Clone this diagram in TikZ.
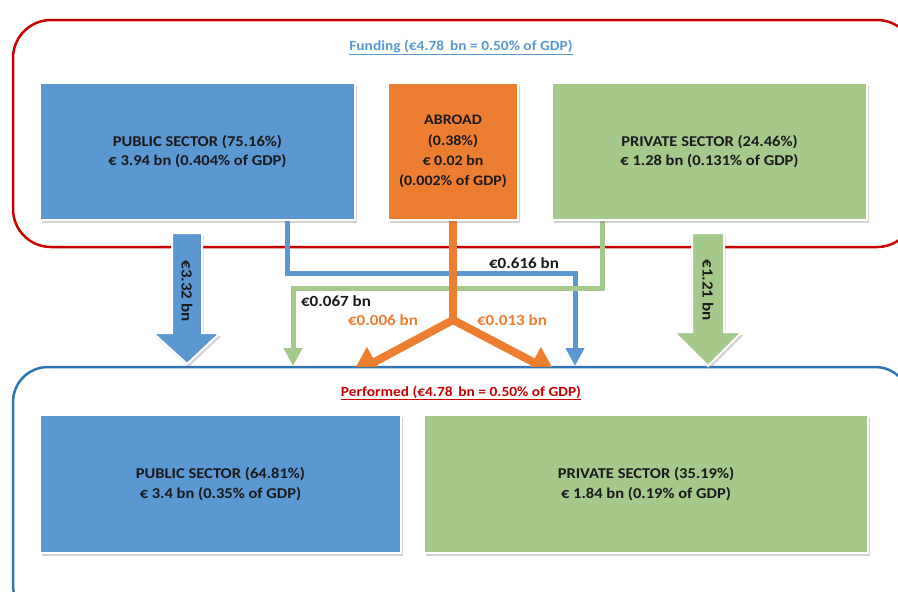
\documentclass[tikz,border=0pt]{standalone}
\usepackage{fontspec}
\setmainfont{Carlito}[FakeStretch=1.1]
\usetikzlibrary{arrows.meta,shadows}
\definecolor{cblue}{HTML}{5B97D1}
\definecolor{corange}{HTML}{ED7D31}
\definecolor{cgreen}{HTML}{A5C98B}
\definecolor{cred}{HTML}{C80000}
\definecolor{cframe}{HTML}{2E75B6}
\definecolor{ctext}{HTML}{1A1A1A}
\tikzset{
  box/.style={draw=white, line width=2pt, minimum height=137pt, inner sep=0pt,
    align=center, text=ctext, font=\bfseries\fontsize{15}{19.5}\selectfont,
    drop shadow={opacity=0.35, shadow xshift=1.5pt, shadow yshift=-3pt}},
  bigarrow/.style={draw=white, line width=2pt, line join=miter,
    drop shadow={opacity=0.35, shadow xshift=1.5pt, shadow yshift=-3pt}},
  flow/.style={line width=5pt, -{Triangle[width=18pt,length=18pt]}},
  oflow/.style={line width=8pt, draw=corange, -{Triangle[width=32pt,length=26pt]}},
  lab/.style={font=\bfseries\fontsize{15.5}{17}\selectfont, text=ctext, inner sep=0pt},
  olab/.style={font=\bfseries\fontsize{15.5}{17}\selectfont, text=corange, inner sep=0pt},
  head/.style={font=\bfseries\fontsize{14}{16}\selectfont, inner sep=0pt},
}
\begin{document}
\begin{tikzpicture}[x=1pt,y=-1pt]
\useasboundingbox (0,0) rectangle (898,592);
\clip (0,0) rectangle (898,592);
% frames
\draw[cred, line width=2.5pt, rounded corners=38pt] (13,20) rectangle (915,247);
\draw[cframe, line width=2.5pt, fill=white, rounded corners=35pt] (13,367) rectangle (910,620);
\node[head, text=cblue] (fundt) at (461,47) {\underline{Funding (€4.78\,\ bn = 0.50\% of GDP)}};
\node[head, text=cred] (perft) at (461,393) {\underline{Performed (€4.78\,\ bn = 0.50\% of GDP)}};
% free ends
\coordinate (tb) at (575,366);
\coordinate (tg) at (293,366);
\coordinate (fork) at (453,320);
\coordinate (tol) at (352,374);
\coordinate (tor) at (556,374);
% thin flows
\draw[flow, draw=cblue] (287,215) |- (575,273) -- (tb);
\draw[flow, draw=cgreen] (602,215) |- (293,288) -- (tg);
% orange flows
\draw[line width=8pt, corange] (453,215) -- (fork);
\begin{scope}
\clip (0,0) rectangle (898,366);
\draw[oflow] (fork) -- (tol);
\draw[oflow] (fork) -- (tor);
\end{scope}
% boxes
\node[box, fill=cblue, minimum width=315pt] (pub) at (197.5,151.5)
  {PUBLIC SECTOR (75.16\%)\\€ 3.94 bn (0.404\% of GDP)};
\node[box, fill=corange, minimum width=130pt, font=\bfseries\fontsize{14.5}{20.3}\selectfont] (abr) at (453,151.5)
  {ABROAD\\(0.38\%)\\€ 0.02 bn\\(0.002\% of GDP)};
\node[box, fill=cgreen, minimum width=315pt] (priv) at (709.5,151.5)
  {PRIVATE SECTOR (24.46\%)\\€ 1.28 bn (0.131\% of GDP)};
\node[box, fill=cblue, minimum width=361pt, minimum height=138pt] (lpub) at (220.5,484)
  {PUBLIC SECTOR (64.81\%)\\€ 3.4 bn (0.35\% of GDP)};
\node[box, fill=cgreen, minimum width=444pt, minimum height=138pt] (lpriv) at (646,484)
  {PRIVATE SECTOR (35.19\%)\\€ 1.84 bn (0.19\% of GDP)};
% big arrows
\draw[bigarrow, fill=cblue] (172,233) -- (202,233) -- (202,333) -- (220,333) -- (187,364) -- (153,333) -- (172,333) -- cycle;
\draw[bigarrow, fill=cgreen] (692,233) -- (724,233) -- (724,332) -- (742,332) -- (708,366) -- (674,332) -- (692,332) -- cycle;
\node[lab, rotate=-90] (a1) at (187,291) {€3.32 bn};
\node[lab, rotate=-90] (a2) at (708,290) {€1.21 bn};
% labels
\node[lab] (l1) at (524,263) {€0.616 bn};
\node[lab] (l2) at (336,301) {€0.067 bn};
\node[olab] (l3) at (383,320) {€0.006 bn};
\node[olab] (l4) at (512,320) {€0.013 bn};
\end{tikzpicture}
\end{document}
